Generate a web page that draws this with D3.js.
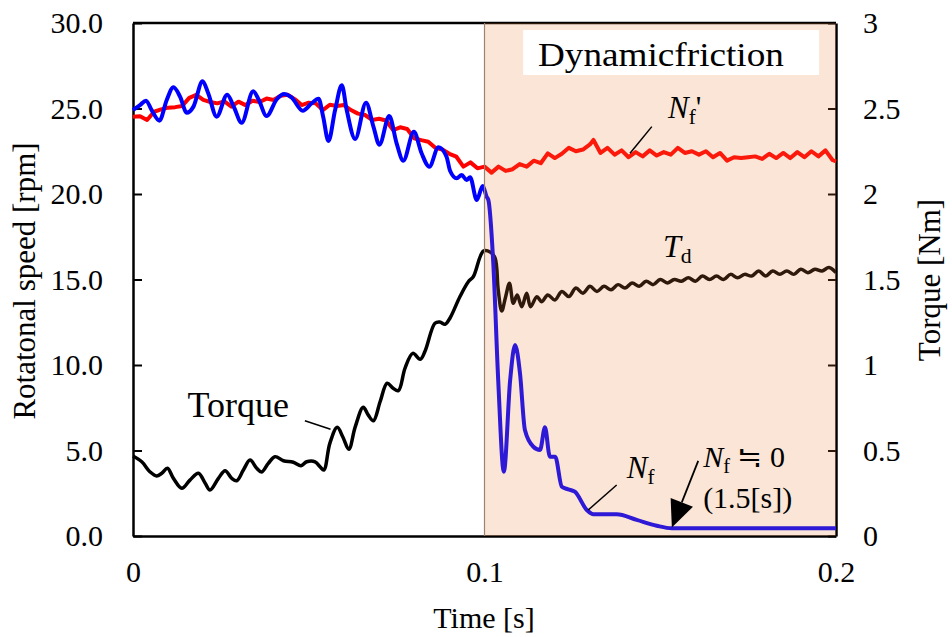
<!DOCTYPE html>
<html>
<head>
<meta charset="utf-8">
<script src="https://cdn.jsdelivr.net/npm/d3@7"></script>
<style>
body { margin: 0; background: #fff; }
svg text { font-family: "Liberation Serif", "Times New Roman", serif; fill: #000; }
</style>
</head>
<body>
<script>
// ---- data: [time s, value] ----
var nfSpeed = [ // N_f, rotational speed [rpm]
  [0, 24.91], [0.0020, 25.20], [0.0037, 25.46], [0.0053, 24.91], [0.0075, 24.29], [0.0096, 25.50],
  [0.0115, 26.24], [0.0134, 25.69], [0.0153, 24.75], [0.0172, 25.11], [0.0198, 26.59], [0.0214, 25.89],
  [0.0238, 24.52], [0.0268, 25.81], [0.0287, 25.09], [0.0309, 24.17], [0.0342, 26.01], [0.0358, 25.50],
  [0.0380, 24.56], [0.0409, 25.54], [0.0430, 25.85], [0.0451, 25.65], [0.0483, 24.87], [0.0508, 25.30],
  [0.0528, 25.57], [0.0541, 24.52], [0.0556, 23.10], [0.0575, 24.91], [0.0594, 26.36], [0.0608, 24.91],
  [0.0632, 23.22], [0.0663, 25.34], [0.0684, 23.94], [0.0701, 22.88], [0.0729, 24.56], [0.0750, 22.96],
  [0.0769, 21.95], [0.0799, 23.64], [0.0821, 22.38], [0.0843, 21.60], [0.0869, 22.73], [0.0892, 22.18],
  [0.0902, 21.36], [0.0921, 20.92], [0.0935, 21.11], [0.0949, 20.82], [0.0959, 20.98], [0.0978, 19.65],
  [0.0995, 20.47], [0.1006, 19.84], [0.1011, 19.65], [0.1025, 15.95], [0.1039, 9.12], [0.1055, 3.76],
  [0.1073, 9.12], [0.1087, 11.17], [0.1101, 9.51], [0.1115, 6.20], [0.1139, 5.22], [0.1158, 5.03],
  [0.1172, 6.36], [0.1186, 4.64], [0.1201, 4.64], [0.1220, 2.88], [0.1238, 2.73], [0.1257, 2.59],
  [0.1291, 1.52], [0.1310, 1.27], [0.1376, 1.27], [0.1433, 0.94], [0.1490, 0.60], [0.1533, 0.45],
  [0.2000, 0.45]
];

var nfPrimeSpeed = [ // N_f', rotational speed [rpm]
  [0, 24.52], [0.002, 24.55], [0.004, 24.33], [0.006, 24.81], [0.008, 24.95], [0.010, 25.05],
  [0.012, 25.08], [0.014, 25.15], [0.016, 25.62], [0.018, 25.80], [0.020, 25.50], [0.022, 25.38],
  [0.024, 25.30], [0.026, 25.42], [0.028, 25.11], [0.030, 25.40], [0.032, 25.20], [0.034, 25.45],
  [0.036, 25.38], [0.038, 25.58], [0.040, 25.50], [0.042, 25.75], [0.044, 25.80], [0.046, 25.55],
  [0.048, 25.20], [0.050, 25.34], [0.052, 25.30], [0.054, 24.91], [0.056, 25.22], [0.058, 25.15],
  [0.060, 25.20], [0.062, 24.91], [0.064, 24.70], [0.066, 24.62], [0.068, 24.33], [0.070, 24.40],
  [0.072, 24.30], [0.074, 23.74], [0.076, 23.90], [0.078, 23.80], [0.080, 23.26], [0.082, 23.15],
  [0.084, 23.06], [0.086, 22.70], [0.088, 22.60], [0.090, 22.35], [0.092, 22.18], [0.094, 21.60],
  [0.096, 21.85], [0.098, 21.50], [0.100, 21.60], [0.102, 21.25], [0.104, 21.60], [0.106, 21.35],
  [0.108, 21.45], [0.110, 21.75], [0.112, 21.60], [0.114, 21.95], [0.116, 21.80], [0.118, 22.38],
  [0.120, 22.10], [0.122, 22.35], [0.124, 22.70], [0.126, 22.50], [0.128, 22.60], [0.130, 22.90],
  [0.131, 23.16], [0.133, 22.40], [0.135, 22.70], [0.137, 22.30], [0.139, 22.55], [0.141, 22.15],
  [0.143, 22.45], [0.145, 22.20], [0.147, 22.55], [0.149, 22.25], [0.151, 22.45], [0.153, 22.30],
  [0.155, 22.70], [0.157, 22.40], [0.159, 22.50], [0.161, 22.30], [0.163, 22.50], [0.165, 22.15],
  [0.167, 22.40], [0.169, 21.95], [0.171, 22.15], [0.173, 22.10], [0.175, 22.15], [0.177, 22.20],
  [0.179, 22.05], [0.181, 22.35], [0.183, 22.10], [0.185, 22.40], [0.187, 22.10], [0.189, 22.45],
  [0.191, 22.15], [0.193, 22.50], [0.195, 22.20], [0.197, 22.55], [0.199, 21.99], [0.200, 21.90]
];

var torque = [ // torque / T_d [Nm]
  [0, 0.468], [0.0025, 0.434], [0.0048, 0.376], [0.0067, 0.351], [0.0082, 0.367], [0.0098, 0.396],
  [0.0115, 0.337], [0.0139, 0.279], [0.0162, 0.327], [0.0186, 0.367], [0.0205, 0.310], [0.0219, 0.269],
  [0.0243, 0.337], [0.0262, 0.382], [0.0281, 0.337], [0.0295, 0.323], [0.0314, 0.386], [0.0333, 0.444],
  [0.0352, 0.396], [0.0366, 0.374], [0.0385, 0.425], [0.0404, 0.464], [0.0428, 0.440], [0.0456, 0.431],
  [0.0478, 0.411], [0.0494, 0.434], [0.0518, 0.434], [0.0532, 0.405], [0.0543, 0.386], [0.0560, 0.542],
  [0.0581, 0.636], [0.0597, 0.579], [0.0614, 0.507], [0.0632, 0.637], [0.0655, 0.753], [0.0669, 0.708],
  [0.0684, 0.674], [0.0703, 0.785], [0.0723, 0.893], [0.0740, 0.864], [0.0755, 0.850], [0.0774, 0.982],
  [0.0796, 1.068], [0.0817, 1.033], [0.0831, 1.082], [0.0859, 1.244], [0.0873, 1.251], [0.0888, 1.238],
  [0.0902, 1.275], [0.0930, 1.399], [0.0954, 1.487], [0.0968, 1.516], [0.0997, 1.667], [0.1016, 1.661],
  [0.1030, 1.626], [0.1039, 1.439], [0.1049, 1.316], [0.1060, 1.398], [0.1071, 1.478], [0.1082, 1.361],
  [0.1093, 1.409], [0.1106, 1.341], [0.1120, 1.419], [0.1131, 1.341], [0.1149, 1.399], [0.1163, 1.370],
  [0.118, 1.41], [0.120, 1.38], [0.122, 1.43], [0.124, 1.40], [0.126, 1.45], [0.128, 1.42],
  [0.130, 1.46], [0.132, 1.43], [0.134, 1.46], [0.136, 1.44], [0.138, 1.47], [0.140, 1.45],
  [0.142, 1.48], [0.144, 1.46], [0.146, 1.49], [0.148, 1.47], [0.150, 1.50], [0.152, 1.48],
  [0.154, 1.50], [0.156, 1.49], [0.158, 1.51], [0.160, 1.49], [0.162, 1.52], [0.164, 1.50],
  [0.166, 1.52], [0.168, 1.50], [0.170, 1.53], [0.172, 1.51], [0.174, 1.53], [0.176, 1.52],
  [0.178, 1.55], [0.180, 1.52], [0.182, 1.55], [0.184, 1.53], [0.186, 1.55], [0.188, 1.53],
  [0.190, 1.56], [0.192, 1.54], [0.194, 1.56], [0.196, 1.55], [0.198, 1.57], [0.200, 1.54]
];

var timeTicks = [0, 0.1, 0.2];
var timeTickLabels = ["0", "0.1", "0.2"];
var speedTicks = [0, 5, 10, 15, 20, 25, 30];
var speedTickLabels = ["0.0", "5.0", "10.0", "15.0", "20.0", "25.0", "30.0"];
var torqueTicks = [0, 0.5, 1, 1.5, 2, 2.5, 3];
var torqueTickLabels = ["0", "0.5", "1", "1.5", "2", "2.5", "3"];
var frictionSpan = [0.1, 0.2];   // dynamic friction phase

// ---- layout ----
var width = 952,
    height = 637,
    margin = {top: 23, right: 116, bottom: 101, left: 133},
    w = width - margin.left - margin.right,
    h = height - margin.top - margin.bottom;

var x = d3.scaleLinear().domain([0, 0.2]).range([0, w]);
var yL = d3.scaleLinear().domain([0, 30]).range([h, 0]);
var yR = d3.scaleLinear().domain([0, 3]).range([h, 0]);

var svg = d3.select("body").append("svg")
    .attr("width", width)
    .attr("height", height);

var g = svg.append("g")
    .attr("transform", "translate(" + margin.left + "," + margin.top + ")");

// top frame line
g.append("line")
    .attr("x1", 0).attr("x2", w).attr("y1", 0).attr("y2", 0)
    .attr("stroke", "#000").attr("stroke-width", 2.5);

var xAxis = g.append("g")
    .attr("transform", "translate(0," + h + ")")
    .call(d3.axisBottom(x).tickValues(timeTicks)
        .tickFormat(function (d, i) { return timeTickLabels[i]; })
        .tickSize(0).tickPadding(26));

var leftAxis = g.append("g")
    .call(d3.axisLeft(yL).tickValues(speedTicks)
        .tickFormat(function (d, i) { return speedTickLabels[i]; })
        .tickSizeInner(-9).tickSizeOuter(0).tickPadding(30));

var rightAxis = g.append("g")
    .attr("transform", "translate(" + w + ",0)")
    .call(d3.axisRight(yR).tickValues(torqueTicks)
        .tickFormat(function (d, i) { return torqueTickLabels[i]; })
        .tickSizeInner(-8).tickSizeOuter(0).tickPadding(27));

[xAxis, leftAxis, rightAxis].forEach(function (a) {
    a.attr("font-family", null).attr("font-size", 30);
    a.select(".domain").attr("stroke-width", 2.5);
    a.selectAll(".tick line").attr("stroke-width", 2);
});
xAxis.selectAll(".tick text").attr("dy", "0.68em");

// ---- series ----
var lineL = d3.line()
    .x(function (d) { return x(d[0]); })
    .y(function (d) { return yL(d[1]); });

var lineR = d3.line()
    .x(function (d) { return x(d[0]); })
    .y(function (d) { return yR(d[1]); })
    .curve(d3.curveCatmullRom);

g.append("path").datum(nfPrimeSpeed)
    .attr("d", lineL.curve(d3.curveLinear))
    .attr("fill", "none").attr("stroke", "#ff0000").attr("stroke-width", 4)
    .attr("stroke-linejoin", "round");

g.append("path").datum(torque)
    .attr("d", lineR)
    .attr("fill", "none").attr("stroke", "#000").attr("stroke-width", 3.5)
    .attr("stroke-linejoin", "round");

g.append("path").datum(nfSpeed)
    .attr("d", lineL.curve(d3.curveMonotoneX))
    .attr("fill", "none").attr("stroke", "#0000ff").attr("stroke-width", 4)
    .attr("stroke-linejoin", "round");

// dynamic friction shading, laid over the curves
g.append("rect")
    .attr("x", x(frictionSpan[0]))
    .attr("y", 0)
    .attr("width", x(frictionSpan[1]) - x(frictionSpan[0]))
    .attr("height", h)
    .attr("fill", "rgb(230,125,50)")
    .attr("fill-opacity", 0.2);

g.append("line")
    .attr("x1", x(frictionSpan[0])).attr("x2", x(frictionSpan[0]))
    .attr("y1", 0).attr("y2", h)
    .attr("stroke", "#9c8270").attr("stroke-width", 1.2);

// title box
g.append("rect")
    .attr("x", x(0.1110)).attr("y", yL(29.59))
    .attr("width", x(0.1952) - x(0.1110))
    .attr("height", yL(26.96) - yL(29.59))
    .attr("fill", "#fff");

g.append("text")
    .attr("x", x(0.1152)).attr("y", yL(27.5))
    .attr("font-size", 33)
    .attr("textLength", 246)
    .attr("lengthAdjust", "spacingAndGlyphs")
    .text("Dynamicfriction");

// ---- annotations ----
function leader(t0, v0, t1, v1, ys) {
    g.append("line")
        .attr("x1", x(t0)).attr("y1", ys(v0))
        .attr("x2", x(t1)).attr("y2", ys(v1))
        .attr("stroke", "#000").attr("stroke-width", 1.5);
}

function symbol(t, v, main, sub, tail, size) {
    var txt = g.append("text")
        .attr("x", x(t)).attr("y", yL(v))
        .attr("font-size", size);
    txt.append("tspan").attr("font-style", "italic").text(main);
    txt.append("tspan").attr("font-size", size * 0.68).attr("dy", size * 0.18).text(sub);
    if (tail) txt.append("tspan").attr("dy", -size * 0.18).text(tail);
    return txt;
}

// N_f'
symbol(0.1522, 24.44, "N", "f", "'", 31);
leader(0.1476, 23.94, 0.1414, 22.38, yL);

// T_d
symbol(0.1508, 16.32, "T", "d", null, 32);

// Torque
g.append("text")
    .attr("x", x(0.0155)).attr("y", yL(6.96))
    .attr("font-size", 36)
    .text("Torque");
leader(0.0489, 6.74, 0.0562, 6.24, yL);

// N_f
symbol(0.1405, 3.39, "N", "f", null, 31);
leader(0.1376, 2.98, 0.1295, 1.52, yL);

// N_f ≒ 0 (1.5[s])
symbol(0.1622, 4.02, "N", "f", " \u2252 0", 30);
g.append("text")
    .attr("x", x(0.1622)).attr("y", yL(1.66))
    .attr("font-size", 30)
    .text("(1.5[s])");

var a0 = [x(0.1608), yL(4.39)],
    a1 = [x(0.1533), yL(0.50)],
    dx = a1[0] - a0[0], dy = a1[1] - a0[1],
    len = Math.sqrt(dx * dx + dy * dy),
    ux = dx / len, uy = dy / len,
    headL = 27, headW = 12,
    base = [a1[0] - ux * headL, a1[1] - uy * headL];

g.append("line")
    .attr("x1", a0[0]).attr("y1", a0[1])
    .attr("x2", base[0]).attr("y2", base[1])
    .attr("stroke", "#000").attr("stroke-width", 1.8);

g.append("polygon")
    .attr("points", [
        a1,
        [base[0] - uy * headW, base[1] + ux * headW],
        [base[0] + uy * headW, base[1] - ux * headW]
    ].map(function (p) { return p.join(","); }).join(" "))
    .attr("fill", "#000");

// ---- axis titles ----
svg.append("text")
    .attr("transform", "translate(" + 484 + "," + 628 + ")")
    .attr("text-anchor", "middle")
    .attr("font-size", 30)
    .text("Time [s]");

svg.append("text")
    .attr("transform", "translate(35,281) rotate(-90)")
    .attr("text-anchor", "middle")
    .attr("font-size", 31)
    .text("Rotatonal speed [rpm]");

svg.append("text")
    .attr("transform", "translate(940,280) rotate(-90)")
    .attr("text-anchor", "middle")
    .attr("font-size", 31)
    .text("Torque [Nm]");
</script>
</body>
</html>
